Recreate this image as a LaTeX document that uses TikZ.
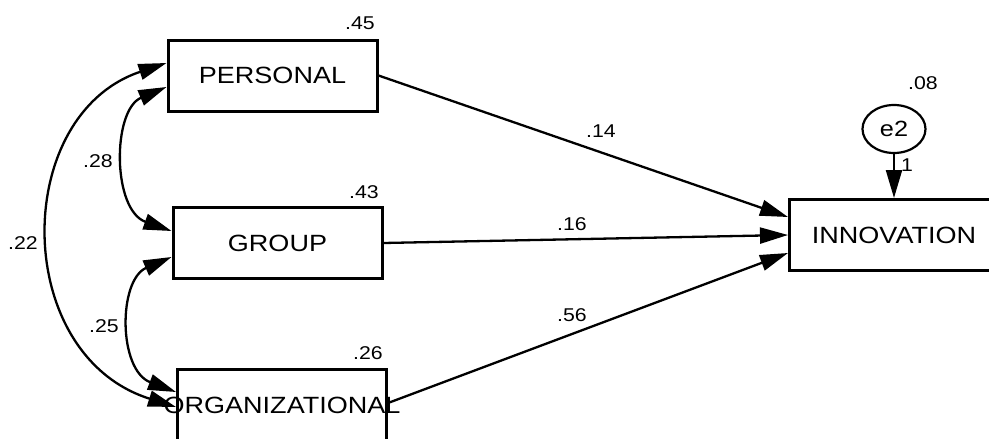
\documentclass[tikz,border=0pt]{standalone}
\usepackage{fontspec}
\setmainfont{Liberation Sans}[FakeStretch=1.15]
\usetikzlibrary{arrows.meta,shapes.geometric}
\begin{document}
\begin{tikzpicture}[x=1pt,y=-1pt,
  box/.style={draw, line width=3pt, minimum width=209pt, minimum height=71pt, inner sep=0pt, font=\fontsize{23.5}{28}\selectfont},
  lab/.style={font=\fontsize{18.5}{22}\selectfont, inner sep=0pt},
  errc/.style={draw, ellipse, line width=2.2pt, minimum width=63pt, minimum height=48pt, inner sep=0pt, font=\fontsize{22}{26}\selectfont},
  pth/.style={line width=2.3pt, -{Triangle[length=28pt,width=16pt]}},
  cov/.style={line width=2.3pt, {Triangle[length=28pt,width=16pt]}-{Triangle[length=28pt,width=16pt]}}]
\clip (0,0) rectangle (989,439);
\fill[white] (0,0) rectangle (989,439);

\node[box] (P) at (272.5,75.5) {PERSONAL};
\node[box] (G) at (277.5,243) {GROUP};
\node[box] (O) at (282,405) {\makebox[0pt]{ORGANIZATIONAL}};
\node[box] (I) at (894,235) {INNOVATION};
\node[errc] (E) at (894,129) {e2};

\draw[pth] (P.east) -- ([yshift=18pt]I.west);
\draw[pth] (G.east) -- (I.west);
\draw[pth] ([yshift=2pt]O.east) -- ([yshift=-18pt]I.west);
\draw[pth] (E.south) -- (I.north);

\draw[cov] ([yshift=-11.5pt]P.west) .. controls (112,110) and (112,210) .. ([yshift=12pt]G.west);
\draw[cov] ([yshift=12.5pt]P.west) .. controls (11,115) and (11,355) .. ([yshift=-2pt]O.west);
\draw[cov] ([yshift=-14pt]G.west) .. controls (118,280) and (118,370) .. ([yshift=13pt]O.west);

\node[lab] (l45) at (360,23) {.45};
\node[lab] (l43) at (364,192) {.43};
\node[lab] (l26) at (368,353) {.26};
\node[lab] (l28) at (98,161) {.28};
\node[lab] (l22) at (23,243) {.22};
\node[lab] (l25) at (104,326) {.25};
\node[lab] (l14) at (601,131) {.14};
\node[lab] (l16) at (572,224) {.16};
\node[lab] (l56) at (572,315) {.56};
\node[lab] (l08) at (923,83) {.08};
\node[lab] (l1) at (907,165) {1};
\end{tikzpicture}
\end{document}
